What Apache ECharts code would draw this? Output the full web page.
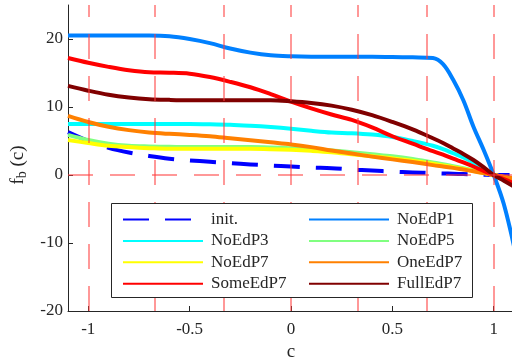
<!DOCTYPE html>
<html>
<head>
<meta charset="utf-8">
<script src="https://cdn.jsdelivr.net/npm/echarts@6/dist/echarts.min.js"></script>
<style>
  html, body { margin: 0; padding: 0; background: #fff; }
  #chart { width: 512px; height: 358px; }
</style>
</head>
<body>
<div id="chart"></div>
<script>
// x samples shared by all curves
const cGrid = [-1.1, -1.0, -0.9, -0.8, -0.7, -0.6, -0.5, -0.4, -0.3, -0.2, -0.1, 0, 0.1, 0.2, 0.3, 0.4, 0.5, 0.6, 0.7, 0.75, 0.8, 0.85, 0.9, 0.95, 1.0, 1.05, 1.1]

const initVals = [6.3, 5.0, 4.0, 3.3, 2.8, 2.4, 2.15, 1.95, 1.75, 1.55, 1.4, 1.25, 1.1, 1.0, 0.8, 0.65, 0.5, 0.38, 0.28, 0.23, 0.18, 0.14, 0.09, 0.04, 0, 0, 0]
const noEdP1 = [20.5, 20.5, 20.5, 20.5, 20.5, 20.4, 20.0, 19.4, 18.6, 18.0, 17.6, 17.45, 17.4, 17.4, 17.4, 17.4, 17.35, 17.3, 17.2, 16.3, 14.0, 11.0, 7.1, 3.7, 0, -4.3, -10.5]
const noEdP3 = [7.5, 7.5, 7.5, 7.5, 7.5, 7.5, 7.5, 7.45, 7.4, 7.25, 7.05, 6.8, 6.5, 6.25, 6.15, 5.95, 5.6, 5.0, 4.3, 3.8, 3.2, 2.6, 1.85, 1.0, 0, -0.75, -1.5]
const noEdP5 = [5.9, 5.15, 4.6, 4.3, 4.2, 4.15, 4.1, 4.1, 4.1, 4.1, 4.05, 3.95, 3.8, 3.6, 3.35, 3.05, 2.75, 2.35, 1.85, 1.6, 1.3, 1.0, 0.7, 0.35, 0, -0.3, -0.6]
const noEdP7 = [5.15, 4.7, 4.3, 4.1, 3.95, 3.85, 3.85, 3.85, 3.85, 3.85, 3.8, 3.7, 3.55, 3.35, 3.05, 2.75, 2.45, 2.1, 1.65, 1.4, 1.15, 0.9, 0.6, 0.3, 0, -0.3, -0.6]
const oneEdP7 = [8.7, 7.8, 7.1, 6.6, 6.25, 6.05, 5.9, 5.7, 5.4, 5.1, 4.8, 4.5, 4.1, 3.6, 3.15, 2.7, 2.3, 1.9, 1.45, 1.25, 1.05, 0.8, 0.55, 0.28, 0, -0.25, -0.5]
const someEdP7 = [17.2, 16.5, 15.9, 15.4, 15.1, 15.05, 14.9, 14.4, 13.7, 12.9, 11.9, 10.8, 9.8, 8.9, 8.1, 7.0, 5.7, 4.6, 3.5, 3.0, 2.4, 1.85, 1.25, 0.6, 0, -0.6, -1.2]
const fullEdP7 = [13.1, 12.4, 11.8, 11.4, 11.15, 11.05, 11.0, 11.0, 11.0, 11.0, 11.0, 10.85, 10.6, 10.2, 9.6, 8.8, 7.8, 6.7, 5.4, 4.7, 3.9, 3.1, 2.2, 1.15, 0, -0.85, -1.7]

const seriesNames = ['init.', 'NoEdP1', 'NoEdP3', 'NoEdP5', 'NoEdP7', 'OneEdP7', 'SomeEdP7', 'FullEdP7']
const seriesVals = [initVals, noEdP1, noEdP3, noEdP5, noEdP7, oneEdP7, someEdP7, fullEdP7]
const seriesColors = ['#0000ff', '#0080ff', '#00ffff', '#80ff80', '#ffff00', '#ff8000', '#ff0000', '#800000']

// red dashed guide lines
const gridC = [-1, -2 / 3, -1 / 3, 0, 1 / 3, 2 / 3, 1]
const xTicks = [-1, -0.5, 0, 0.5, 1]
const yTicks = [-20, -10, 0, 10, 20]

const font = '"Liberation Serif", "Times New Roman", serif'
const axisColor = '#262626'

const series = seriesNames.map((name, i) => ({
  name,
  type: 'line',
  data: cGrid.map((c, j) => [c, seriesVals[i][j]]),
  symbol: 'none',
  showSymbol: false,
  smooth: 0.35,
  z: 3,
  lineStyle: {
    color: seriesColors[i],
    width: 4,
    type: i === 0 ? [26, 16] : 'solid',
    cap: 'butt',
    join: 'round'
  },
  itemStyle: { color: seriesColors[i] }
}))

series.unshift({
  type: 'line',
  data: [],
  z: 1,
  silent: true,
  markLine: {
    symbol: ['none', 'none'],
    silent: true,
    label: { show: false },
    lineStyle: { color: 'rgba(255, 60, 60, 0.7)', type: [25, 17], width: 1.5 },
    data: gridC.map(v => ({ xAxis: v })).concat([{ yAxis: 0 }])
  }
})

const legendBase = {
  orient: 'vertical',
  top: 211,
  padding: 0,
  itemWidth: 80,
  itemHeight: 14,
  itemGap: 4.4,
  z: 100,
  itemStyle: { opacity: 0 },
  textStyle: { fontFamily: font, fontSize: 17, color: axisColor, lineHeight: 16, padding: [0, 0, 0, 3] }
}

const option = {
  animation: false,
  grid: { left: 68, top: 5, width: 446, height: 306, outerBoundsMode: 'none', containLabel: false },
  xAxis: {
    type: 'value',
    min: -1.1,
    max: 1.1,
    name: 'c',
    nameLocation: 'middle',
    nameGap: 27,
    nameTextStyle: { fontFamily: font, fontSize: 19, color: axisColor },
    axisLine: { onZero: false, lineStyle: { color: axisColor, width: 1 } },
    axisTick: { inside: true, length: 5, customValues: xTicks, lineStyle: { color: axisColor } },
    axisLabel: { customValues: xTicks, margin: 10, fontFamily: font, fontSize: 17, color: axisColor },
    splitLine: { show: false }
  },
  yAxis: {
    type: 'value',
    min: -20,
    max: 25,
    name: '{f|f}{b|b}{f| (c)}',
    nameLocation: 'middle',
    nameGap: 36,
    nameRotate: 90,
    nameTextStyle: {
      fontFamily: font,
      color: axisColor,
      padding: [0, 14, 0, 0],
      rich: {
        f: { fontFamily: font, fontSize: 19, color: axisColor, lineHeight: 22 },
        b: { fontFamily: font, fontSize: 14, color: axisColor, verticalAlign: 'bottom', lineHeight: 14, padding: [10, 0, 0, 0] }
      }
    },
    axisLine: { show: true, onZero: false, lineStyle: { color: axisColor, width: 1 } },
    axisTick: { show: true, inside: true, length: 5, customValues: yTicks, lineStyle: { color: axisColor } },
    axisLabel: { customValues: yTicks, margin: 5, fontFamily: font, fontSize: 17, color: axisColor },
    splitLine: { show: false }
  },
  legend: [
    Object.assign({}, legendBase, { left: 122, data: ['init.', 'NoEdP3', 'NoEdP7', 'SomeEdP7'] }),
    Object.assign({}, legendBase, { left: 308, data: ['NoEdP1', 'NoEdP5', 'OneEdP7', 'FullEdP7'] })
  ],
  graphic: [{
    type: 'rect',
    z: 50,
    silent: true,
    shape: { x: 111.5, y: 203.5, width: 361, height: 94 },
    style: { fill: '#fff', stroke: axisColor, lineWidth: 1 }
  }],
  series
}

const myChart = echarts.init(document.getElementById('chart'))
myChart.setOption(option)
</script>
</body>
</html>
